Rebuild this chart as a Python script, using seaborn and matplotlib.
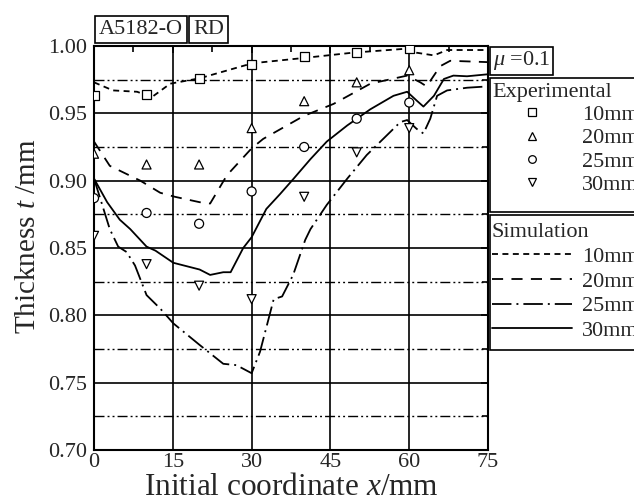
import numpy as np
import pandas as pd
import matplotlib
matplotlib.use("Agg")
import matplotlib.pyplot as plt
from matplotlib.lines import Line2D
from matplotlib.patches import Rectangle
from matplotlib.ticker import MultipleLocator, FormatStrFormatter
import seaborn as sns

# experimental points (measured every 10 mm)
exp_x = [0, 10, 20, 30, 40, 50, 60]
exp_10 = [0.963, 0.964, 0.976, 0.986, 0.992, 0.995, 0.998]
exp_20 = [0.920, 0.912, 0.912, 0.939, 0.959, 0.973, 0.982]
exp_25 = [0.887, 0.876, 0.868, 0.892, 0.925, 0.946, 0.958]
exp_30 = [0.859, 0.838, 0.822, 0.812, 0.888, 0.921, 0.939]

# simulation curves
sim10_x = [0, 3.6, 8.2, 11.0, 14.5, 20.1, 30.0, 32.2, 39.7, 49.2, 59.5, 61.4, 64.7, 67.2, 72.9, 75]
sim10_t = [0.973, 0.967, 0.966, 0.962, 0.972, 0.976, 0.987, 0.988, 0.991, 0.995, 0.998,
           0.995, 0.993, 0.997, 0.997, 0.997]
sim20_x = [0, 3.0, 8.8, 12.6, 15.4, 20.1, 22.1, 25.3, 30.0, 32.2, 39.9, 45.6, 52.6, 59.6,
           62.1, 63.3, 65.9, 67.8, 75]
sim20_t = [0.929, 0.911, 0.900, 0.891, 0.888, 0.884, 0.883, 0.904, 0.924, 0.931, 0.948,
           0.957, 0.972, 0.978, 0.973, 0.970, 0.985, 0.989, 0.988]
sim25_x = [0, 3.0, 4.6, 6.2, 7.8, 10.0, 12.6, 15.1, 20.1, 24.6, 27.1, 30.0, 31.6, 34.2,
           35.8, 37.9, 40.2, 41.2, 44.3, 48.2, 51.9, 57.0, 58.3, 59.6, 61.4, 62.7, 64.0,
           65.3, 67.2, 71.0, 75]
sim25_t = [0.9015, 0.864, 0.851, 0.847, 0.837, 0.815, 0.805, 0.794, 0.778, 0.764, 0.763,
           0.757, 0.773, 0.812, 0.814, 0.830, 0.856, 0.864, 0.882, 0.9015, 0.919, 0.9385,
           0.9435, 0.945, 0.9385, 0.935, 0.946, 0.963, 0.967, 0.969, 0.970]
sim30_x = [0, 2.5, 4.9, 6.9, 10.0, 11.7, 15.1, 20.1, 22.1, 24.6, 26.0, 28.4, 30.0, 31.6,
           32.8, 35.4, 38.0, 41.2, 44.3, 48.2, 52.6, 57.0, 59.6, 61.4, 62.7, 64.7, 66.6,
           68.4, 71.0, 75]
sim30_t = [0.9015, 0.884, 0.871, 0.864, 0.851, 0.848, 0.839, 0.834, 0.830, 0.832, 0.832,
           0.850, 0.858, 0.870, 0.879, 0.890, 0.9015, 0.916, 0.929, 0.941, 0.953, 0.963,
           0.966, 0.9595, 0.955, 0.963, 0.9755, 0.978, 0.9775, 0.979]

sizes = ["10mm", "20mm", "25mm", "30mm"]

exp_df = pd.concat([
    pd.DataFrame({"x": exp_x, "t": v, "size": s})
    for s, v in zip(sizes, [exp_10, exp_20, exp_25, exp_30])
])
sim_df = pd.concat([
    pd.DataFrame({"x": xx, "t": tt, "size": s})
    for s, xx, tt in zip(sizes, [sim10_x, sim20_x, sim25_x, sim30_x],
                         [sim10_t, sim20_t, sim25_t, sim30_t])
])

sns.set_style("white")
plt.rcParams["font.family"] = ["Liberation Serif", "DejaVu Serif"]
plt.rcParams["mathtext.fontset"] = "custom"
plt.rcParams["mathtext.it"] = "Liberation Serif:italic"
plt.rcParams["mathtext.rm"] = "Liberation Serif"
plt.rcParams["lines.scale_dashes"] = False

dash_map = {"10mm": (4.3, 3.2), "20mm": (8.0, 6.0),
            "25mm": (14.0, 3.6, 1.4, 3.6), "30mm": ""}
marker_map = {"10mm": "s", "20mm": "^", "25mm": "o", "30mm": "v"}
grid_ls = (0, (7.2, 2.2, 1.4, 2.2, 1.4, 2.2))

fig = plt.figure(figsize=(6.34, 5.03), dpi=100)
ax = fig.add_axes([0.1483, 0.1054, 0.6215, 0.8032])

sns.lineplot(data=sim_df, x="x", y="t", style="size", dashes=dash_map, color="black",
             linewidth=1.3, sort=False, estimator=None, legend=False, ax=ax, zorder=3)
sns.scatterplot(data=exp_df, x="x", y="t", style="size", markers=marker_map,
                color="white", edgecolor="black", linewidth=0.9, s=42,
                legend=False, ax=ax, zorder=4)

ax.set_xlim(0, 75)
ax.set_ylim(0.70, 1.00)
ax.xaxis.set_major_locator(MultipleLocator(15))
ax.xaxis.set_minor_locator(MultipleLocator(7.5))
ax.yaxis.set_major_locator(MultipleLocator(0.05))
ax.yaxis.set_minor_locator(MultipleLocator(0.025))
ax.yaxis.set_major_formatter(FormatStrFormatter("%.2f"))
ax.grid(True, which="major", color="black", linewidth=1.2, linestyle="-")
ax.yaxis.grid(True, which="minor", color="black", linewidth=1.0, linestyle=grid_ls)
ax.set_axisbelow(True)
ax.tick_params(which="both", direction="in", top=True, right=True, labelsize=16,
               color="black")
ax.tick_params(axis="y", which="major", pad=5)
ax.tick_params(axis="x", which="major", pad=2)
ax.tick_params(which="major", length=5, width=1.2)
ax.tick_params(which="minor", length=4, width=1.2)
for sp in ax.spines.values():
    sp.set_color("black")
    sp.set_linewidth(1.5)

ax.set_xlabel("Initial coordinate $x$/mm", fontsize=22.5, labelpad=1)
ax.set_ylabel("Thickness $t$ /mm", fontsize=21)
ax.yaxis.set_label_coords(-0.135, 0.53)

box = dict(boxstyle="square,pad=0.18", fc="white", ec="black", lw=1.2)
fig.text(99 / 634, 1 - 29 / 503, "A5182-O", fontsize=16, va="center", ha="left", bbox=box)
fig.text(193 / 634, 1 - 29 / 503, "RD", fontsize=16, va="center", ha="left", bbox=box)
fig.text(493 / 634, 1 - 61 / 503, r"$\mu$ =0.1", fontsize=16, va="center", ha="left",
         bbox=dict(boxstyle="square,pad=0.12", fc="white", ec="black", lw=1.2))

# legend frames (they run off the right edge of the figure)
for top, bot in [(78, 212), (215, 350)]:
    fig.add_artist(Rectangle((490 / 634, 1 - bot / 503), 200 / 634, (bot - top) / 503,
                             transform=fig.transFigure, fc="white", ec="black", lw=1.2))

exp_handles = [Line2D([], [], linestyle="none", marker=marker_map[s], markersize=5.5,
                      markerfacecolor="white", markeredgecolor="black",
                      markeredgewidth=0.9) for s in sizes]
sim_handles = [Line2D([], [], color="black", linewidth=1.3,
                      linestyle=(0, dash_map[s]) if dash_map[s] else "-") for s in sizes]

leg_kw = dict(loc="upper left", frameon=False, fontsize=16, title_fontsize=16,
              handlelength=3.6, handletextpad=0.45, borderpad=0,
              borderaxespad=0, alignment="left")
leg1 = fig.legend(exp_handles, sizes, title="Experimental", labelspacing=0.12,
                  bbox_to_anchor=(492 / 634, 1 - 83 / 503), **leg_kw)
leg2 = fig.legend(sim_handles, sizes, title="Simulation", labelspacing=0.19,
                  bbox_to_anchor=(492 / 634, 1 - 223 / 503), **leg_kw)
for leg in (leg1, leg2):
    leg.set_zorder(5)

fig.savefig("out.png", dpi=100)
